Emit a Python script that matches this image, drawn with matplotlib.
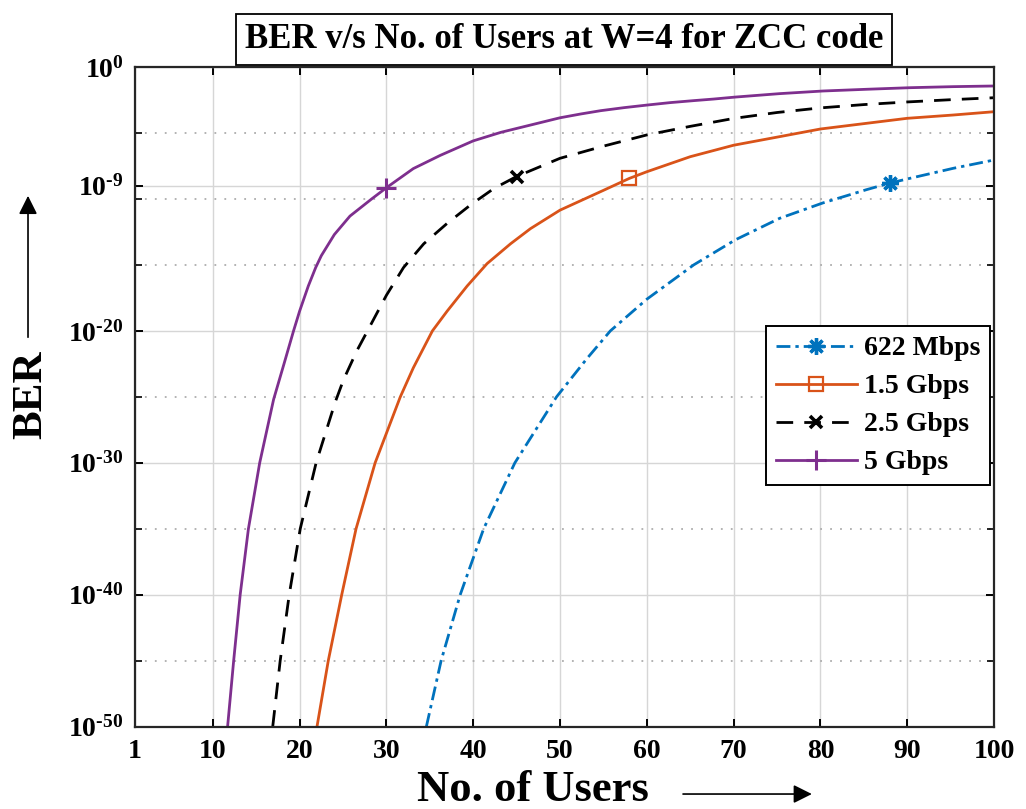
import numpy as np
import matplotlib
matplotlib.use("Agg")
import matplotlib.pyplot as plt
from matplotlib.ticker import NullFormatter

plt.rcParams["font.family"] = ["Liberation Serif", "DejaVu Serif"]
plt.rcParams["font.weight"] = "bold"
plt.rcParams["mathtext.fontset"] = "custom"
plt.rcParams["mathtext.rm"] = "Liberation Serif:bold"
plt.rcParams["mathtext.default"] = "rm"

# values (BER given as log10)
users_622m = [34.6, 36.3, 38.5, 41.2, 44.8, 49.6, 53.1, 55.8, 60, 65.4, 70.2, 75.3, 80.3, 85.3, 88, 90.3, 95.3, 100]
log_ber_622m = [-50, -45, -40, -35, -30, -25, -22.1, -20, -17.6, -15, -13.1, -11.47, -10.3, -9.3, -8.8, -8.44, -7.68, -7.05]

users_1g5 = [22.0, 23.3, 24.85, 26.5, 28.7, 31.6, 33.1, 35.3, 37.0, 39.3, 41.6, 44.3, 46.6, 50, 55, 58, 60, 65, 70,
             75.3, 80, 85.3, 90, 95.3, 100]
log_ber_1g5 = [-50, -45, -40, -35, -30, -25, -22.8, -20, -18.5, -16.6, -14.9, -13.4, -12.25, -10.85, -9.35, -8.44,
               -7.94, -6.8, -5.93, -5.28, -4.7, -4.27, -3.89, -3.64, -3.39]

users_2g5 = [16.9, 17.76, 18.8, 20.07, 21.9, 24.1, 25.06, 26.6, 27.9, 30, 31.97, 34.3, 37, 39.7, 42.4, 45, 50, 55,
             60, 65, 70, 75, 80, 85, 90, 95, 100]
log_ber_2g5 = [-50, -45, -40, -35, -30, -25.4, -23.7, -21.5, -19.9, -17.3, -15.2, -13.4, -11.85, -10.45, -9.2, -8.3,
               -6.92, -6.0, -5.15, -4.5, -3.9, -3.45, -3.1, -2.85, -2.65, -2.48, -2.33]

users_5g = [11.7, 12.4, 13.15, 14.1, 15.4, 17.0, 18.2, 19.3, 20, 21, 21.85, 22.5, 24, 25.8, 28.3, 30, 33.1, 36.2,
            40, 43.2, 46.6, 50, 52.4, 54.7, 57.4, 60.1, 62.7, 65.4, 67.7, 70.2, 75.3, 80.3, 85.3, 90.3, 95.3, 100]
log_ber_5g = [-50, -45, -40, -35, -30, -25.2, -22.5, -20, -18.5, -16.6, -15.2, -14.3, -12.7, -11.3, -10.0, -9.15,
              -7.7, -6.7, -5.6, -4.95, -4.4, -3.85, -3.56, -3.31, -3.08, -2.88, -2.70, -2.55, -2.43, -2.28, -2.02,
              -1.82, -1.69, -1.57, -1.49, -1.44]

# user count where each curve carries its single marker
marker_user = {"622 Mbps": 88, "1.5 Gbps": 58, "2.5 Gbps": 45, "5 Gbps": 30}

x_ticks = [1, 10, 20, 30, 40, 50, 60, 70, 80, 90, 100]
y_major_exp = [-50, -40, -30, -20, -9, 0]
y_minor_exp = [-45, -35, -25, -15, -10, -5]


def exp_label(e):
    # short hyphen in the exponent, like the reference
    if e < 0:
        return r"$10^{\text{-}%d}$" % (-e)
    return r"$10^{%d}$" % e


fig = plt.figure(figsize=(10.26, 8.09), dpi=100)
ax = fig.add_axes([0.1313, 0.1017, 0.8375, 0.8155])

series = [
    ("622 Mbps", users_622m, log_ber_622m,
     dict(color="#0072BD", dashes=(5, 1.8, 1.2, 1.8), marker=(8, 2, 0), ms=12, mew=2.4)),
    ("1.5 Gbps", users_1g5, log_ber_1g5, dict(color="#D95319", ls="-", marker="s", ms=10, mfc="none", mew=1.6)),
    ("2.5 Gbps", users_2g5, log_ber_2g5, dict(color="black", dashes=(6, 4), marker="x", ms=9, mew=2.6)),
    ("5 Gbps", users_5g, log_ber_5g, dict(color="#7E2F8E", ls="-", marker="+", ms=14, mew=2.2)),
]

for name, users, log_ber, style in series:
    ber = 10.0 ** np.array(log_ber)
    idx = users.index(marker_user[name])
    ax.semilogy(users, ber, lw=2.0, markevery=[idx], label=name, solid_joinstyle="round", **style)

ax.set_xlim(1, 100)
ax.set_ylim(1e-50, 1e0)
ax.set_xticks(x_ticks)
ax.set_yticks([10.0 ** e for e in y_major_exp])
ax.set_yticklabels([exp_label(e) for e in y_major_exp])
ax.set_yticks([10.0 ** e for e in y_minor_exp], minor=True)
ax.yaxis.set_minor_formatter(NullFormatter())
ax.tick_params(axis="both", which="both", direction="in", top=True, right=True)
ax.tick_params(axis="both", which="major", labelsize=20, length=6, width=1.4)
ax.tick_params(axis="x", pad=9)
ax.tick_params(axis="y", which="major", pad=8)
ax.tick_params(axis="y", which="minor", length=5, width=1.2)
for lab in ax.get_xticklabels():
    lab.set_fontweight("bold")

ax.grid(True, which="major", color="#d6d6d6", lw=1.0, ls="-")
ax.grid(True, which="minor", axis="y", color="#adadad", lw=1.3, ls=(0, (1, 4.5)))
ax.set_axisbelow(True)
for sp in ax.spines.values():
    sp.set_linewidth(1.6)
    sp.set_color("#262626")

leg = ax.legend(loc="upper right", bbox_to_anchor=(0.995, 0.607), borderaxespad=0, fontsize=20,
                handlelength=2.9, labelspacing=0.45, borderpad=0.35,
                handletextpad=0.25, fancybox=False, framealpha=1)
leg.get_frame().set_edgecolor("black")
leg.get_frame().set_linewidth(1.4)

fig.text(0.5497, 0.9512, "BER v/s No. of Users at W=4 for ZCC code", ha="center", va="center",
         fontsize=25, fontweight="bold",
         bbox=dict(boxstyle="square,pad=0.26", fc="white", ec="black", lw=1.3))

# axis labels with long arrows
fig.text(0.519, 0.024, "No. of Users", ha="center", va="center", fontsize=32, fontweight="bold")
fig.text(0.030, 0.512, "BER", ha="center", va="center", rotation=90, fontsize=31, fontweight="bold")
ax.annotate("", xy=(0.794, 0.0185), xytext=(0.663, 0.0185), xycoords="figure fraction",
            arrowprops=dict(arrowstyle="-|>", lw=1.2, mutation_scale=28, color="black"))
ax.annotate("", xy=(0.0273, 0.7614), xytext=(0.0273, 0.5797), xycoords="figure fraction",
            arrowprops=dict(arrowstyle="-|>", lw=1.2, mutation_scale=28, color="black"))

fig.savefig("out.png", dpi=100)
